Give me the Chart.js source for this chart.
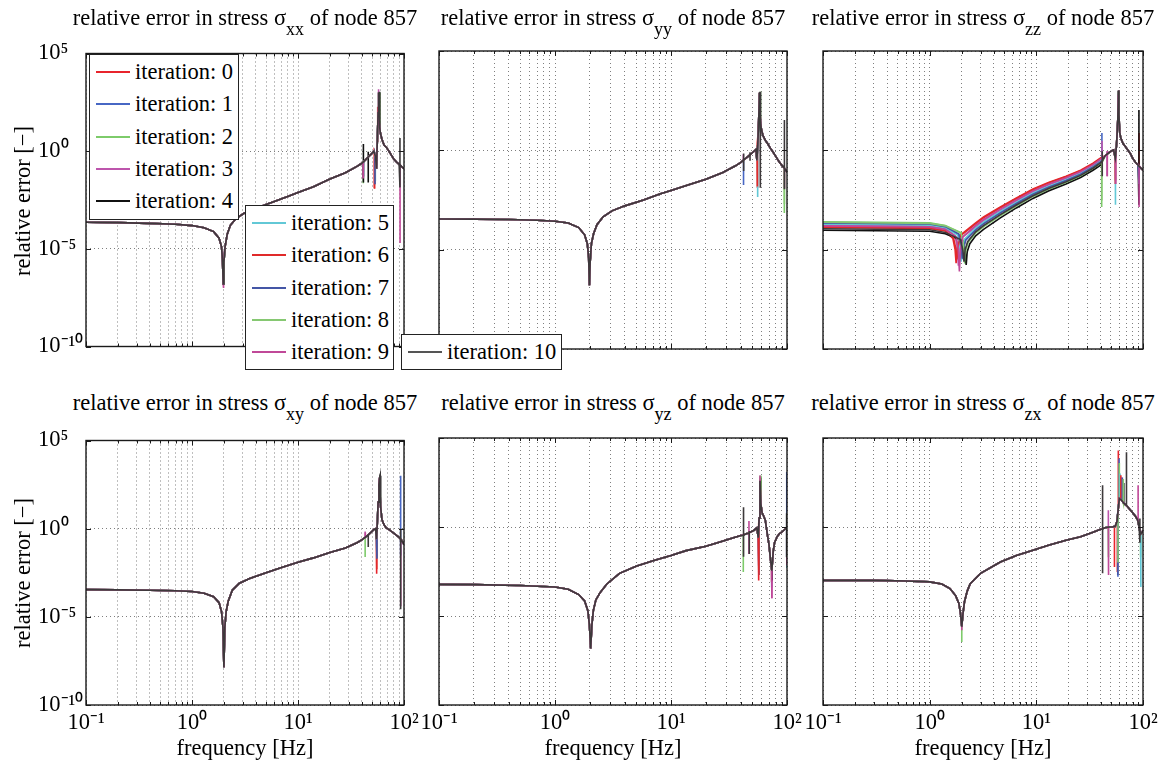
<!DOCTYPE html>
<html lang="en">
<head>
<meta charset="UTF-8">
<title>Relative error in stress of node 857</title>
<style>
    body { margin: 0; background: #fff; font-family: "Liberation Serif", "Times New Roman", serif; color: #000; }
    #fig { position: relative; width: 1165px; height: 763px; overflow: hidden; background: #fff; }
    canvas { position: absolute; }
    .ttl { position: absolute; width: 440px; text-align: center; font-size: 22.5px; line-height: 22px; white-space: nowrap; }
    .ttl sub { font-size: 18px; vertical-align: -10px; line-height: 0; }
    .ylab { position: absolute; width: 220px; height: 22px; line-height: 22px; font-size: 22.5px; text-align: center; white-space: nowrap; transform: rotate(-90deg); }
    .legend { position: absolute; background: #fff; border: 1px solid #222; box-sizing: border-box; z-index: 5; }
    .legend .row { position: absolute; left: 0; height: 32px; display: flex; align-items: center; }
    .legend .swatch { width: 34px; height: 2px; margin-left: 6px; }
    .legend .txt { margin-left: 5px; font-size: 22.5px; white-space: nowrap; }
</style>
<script src="https://cdn.jsdelivr.net/npm/chart.js"></script>
</head>
<body>
<div id="fig"></div>
<script>
// iterations
const iterLabels = ['iteration: 0', 'iteration: 1', 'iteration: 2', 'iteration: 3', 'iteration: 4',
    'iteration: 5', 'iteration: 6', 'iteration: 7', 'iteration: 8', 'iteration: 9', 'iteration: 10'];
const iterColors = ['#e8242c', '#4767c4', '#7dcb6a', '#bd55ac', '#111111',
    '#62c8d6', '#e02a2a', '#4456a6', '#86c872', '#c04898', '#3d393b'];
const legendColors = ['#e8242c', '#4767c4', '#7dcb6a', '#bd55ac', '#111111',
    '#62c8d6', '#e02a2a', '#4456a6', '#86c872', '#c04898', '#555555'];

// axis ticks
const xGridTicks = [0.1, 0.2, 0.3, 0.4, 0.5, 0.6, 0.7, 0.8, 0.9, 1, 2, 3, 4, 5, 6, 7, 8, 9,
    10, 20, 30, 40, 50, 60, 70, 80, 90, 100];
const xDecades = [0.1, 1, 10, 100];
const xTickLabels = ['10\u207B\u00B9', '10\u2070', '10\u00B9', '10\u00B2'];
const yDecades = [1e-10, 1e-5, 1, 1e5];
const yTickLabels = ['10\u207B\u00B9\u2070', '10\u207B\u2075', '10\u2070', '10\u2075'];

// spikes: [f, tip] is a single point, [f, level, tip, ...] is a vertical stroke from the curve level

// sigma_xx : curve shared by all iterations + spikes per iteration
const xxFreq = [0.1, 0.2, 0.4, 0.7, 1, 1.3, 1.6, 1.8, 1.9, 1.94, 1.97, 2.0, 2.05, 2.15, 2.3, 2.6, 3.1, 4, 5.8, 8,
    10, 14, 20, 28, 36, 40, 43, 46, 49, 52, 54, 55, 56, 57, 57.5, 58, 59, 60, 62, 65, 68, 72, 76, 80, 85, 90, 95, 100];
const xxBase = [2.3e-4, 2.2e-4, 2e-4, 1.8e-4, 1.55e-4, 1.2e-4, 7.6e-5, 3.5e-5, 1.26e-5, 2.5e-6, 1.6e-7, 2e-6, 1.26e-5, 5.6e-5, 1.6e-4,
    3.5e-4, 6.6e-4, 1.2e-3, 2.5e-3, 4.8e-3, 7.6e-3, 1.5e-2, 3.8e-2, 7.9e-2, 0.166, 0.24, 0.35, 0.5, 0.7, 1.0,
    0.5, 0.126, 3.2, 100, 1000, 63, 16, 8, 4, 2, 1.6, 1.0, 0.63, 0.4, 0.28, 0.21, 0.16, 0.126];
const xxSpikes = [
    [[52.5, 0.85, 0.0126], [56.5, 190]],
    [[41.5, 0.27, 0.05], [53, 0.75, 0.02]],
    [[41.3, 0.27, 0.023]],
    [[41.3, 0.27, 0.04], [57.2, 1500]],
    [[41.4, 0.27, 2.3, 0.025], [46, 0.5, 0.93, 0.025], [58.5, 1000]],
    [[53.5, 0.6, 0.03]],
    [[52.8, 0.8, 0.012]],
    [[53.2, 0.7, 0.02]],
    [[58.3, 1000]],
    [[1.97, 1e-7], [41.2, 0.27, 0.04], [91.8, 0.2, 2e-5]],
    [[58.6, 1100], [91.6, 0.21, 4.7, 0.014]]
];

// sigma_yy
const yyFreq = [0.1, 0.2, 0.4, 0.7, 1, 1.3, 1.6, 1.8, 1.9, 1.95, 1.98, 2.01, 2.06, 2.15, 2.3, 2.6, 3.1, 4, 5.8, 8,
    10, 14, 20, 28, 36, 40, 43, 46, 49, 52, 54, 55, 56, 57, 58, 58.5, 59, 60, 62, 65, 68, 72, 76, 80, 85, 90, 95, 100];
const yyBase = [3.5e-4, 3.45e-4, 3.3e-4, 3e-4, 2.7e-4, 2.2e-4, 1.3e-4, 5.6e-5, 2e-5, 4e-6, 1.6e-7, 2.5e-6, 2e-5, 6.3e-5, 1.8e-4,
    4.5e-4, 9e-4, 1.6e-3, 3.2e-3, 6.3e-3, 9.5e-3, 1.8e-2, 3.5e-2, 7.6e-2, 0.166, 0.25, 0.35, 0.48, 0.66, 0.9,
    1.1, 0.32, 2, 32, 800, 100, 32, 12.6, 5.6, 3.2, 2.2, 1.26, 0.8, 0.5, 0.28, 0.18, 0.126, 0.08];
const yySpikes = [
    [[55.5, 0.6, 0.0126]],
    [[42.2, 0.32, 0.018]],
    [[58.8, 900], [94.8, 0.13, 7e-4]],
    [[42, 0.32, 0.63], [58.3, 600]],
    [[58.7, 870]],
    [[55.8, 1.5, 4.5e-3]],
    [[55.3, 0.5, 0.015]],
    [[58.1, 500]],
    [[95, 0.126, 2e-3]],
    [[58.2, 620], [95.2, 0.125, 0.012]],
    [[42.3, 0.33, 0.7, 0.09], [48, 0.6, 0.8, 0.3], [58.6, 880], [58.8, 0.013], [95, 0.126, 34, 0.011]]
];

// sigma_zz : low-frequency part differs per iteration, resonance part shared
const zzFreq = [44, 47, 50, 53, 55, 56.5, 58, 59, 59.5, 60.5, 62, 65, 68, 72, 76, 80, 85, 90, 95, 100];
const zzBase = [0.52, 0.7, 0.9, 1.05, 0.4, 2, 32, 1000, 63, 8, 4, 2.2, 1.6, 1.05, 0.7, 0.4, 0.25, 0.18, 0.13, 0.1];
const zzLow = [
    [[0.1, 1.32e-4], [1, 1.17e-4], [1.4, 8.7e-5], [1.65, 3.7e-5], [1.73, 1.05e-5], [1.77, 2.1e-6], [1.81, 1.26e-5], [1.91, 5e-5],
        [2.7, 2.24e-4], [3.2, 4.5e-4], [4.6, 1.41e-3], [6.5, 3.98e-3], [9.3, 1.12e-2], [13, 2.4e-2], [19, 5e-2], [26, 0.1], [34, 0.224], [40, 0.417]],
    [[0.1, 2.1e-4], [1, 1.86e-4], [1.4, 1.38e-4], [1.86, 5.9e-5], [1.95, 1.66e-5], [2.0, 3.2e-6], [2.05, 1.12e-5], [2.16, 3.2e-5],
        [2.7, 1.05e-4], [3.2, 2.14e-4], [4.6, 7.4e-4], [6.5, 2.24e-3], [9.3, 6.5e-3], [13, 1.45e-2], [19, 3.16e-2], [26, 6.5e-2], [34, 0.148], [40, 0.275]],
    [[0.1, 2.5e-4], [1, 2.24e-4], [1.4, 1.66e-4], [1.98, 7.1e-5], [2.08, 2e-5], [2.13, 2e-6], [2.18, 1e-5], [2.3, 2.4e-5],
        [2.7, 6.9e-5], [3.2, 1.45e-4], [4.6, 5.2e-4], [6.5, 1.62e-3], [9.3, 4.8e-3], [13, 1.1e-2], [19, 2.45e-2], [26, 5.1e-2], [34, 0.12], [40, 0.22]],
    [[0.1, 1.78e-4], [1, 1.58e-4], [1.4, 1.17e-4], [1.73, 5e-5], [1.81, 1.41e-5], [1.86, 1.58e-6], [1.91, 1.12e-5], [2.01, 4e-5],
        [2.7, 1.41e-4], [3.2, 2.9e-4], [4.6, 9.5e-4], [6.5, 2.8e-3], [9.3, 8.1e-3], [13, 1.78e-2], [19, 3.8e-2], [26, 7.8e-2], [34, 0.174], [40, 0.324]],
    [[0.1, 9.5e-5], [1, 8.5e-5], [1.4, 6.3e-5], [2.05, 2.7e-5], [2.15, 7.9e-6], [2.2, 1.7e-6], [2.25, 7.9e-6], [2.38, 2e-5],
        [2.7, 5e-5], [3.2, 1.05e-4], [4.6, 4e-4], [6.5, 1.26e-3], [9.3, 3.8e-3], [13, 8.9e-3], [19, 2e-2], [26, 4.3e-2], [34, 0.1], [40, 0.18]],
    [[0.1, 1.9e-4], [1, 1.7e-4], [1.4, 1.26e-4], [1.83, 5.4e-5], [1.92, 1.5e-5], [1.97, 2.5e-6], [2.02, 1.12e-5], [2.13, 3.5e-5],
        [2.7, 1.2e-4], [3.2, 2.4e-4], [4.6, 8.3e-4], [6.5, 2.45e-3], [9.3, 7.1e-3], [13, 1.58e-2], [19, 3.4e-2], [26, 6.9e-2], [34, 0.158], [40, 0.295]],
    [[0.1, 1.41e-4], [1, 1.26e-4], [1.4, 9.3e-5], [1.67, 4e-5], [1.76, 1.12e-5], [1.8, 3.2e-6], [1.85, 1.41e-5], [1.94, 5e-5],
        [2.7, 2e-4], [3.2, 4e-4], [4.6, 1.29e-3], [6.5, 3.6e-3], [9.3, 1.02e-2], [13, 2.24e-2], [19, 4.7e-2], [26, 9.3e-2], [34, 0.209], [40, 0.39]],
    [[0.1, 2.2e-4], [1, 1.95e-4], [1.4, 1.45e-4], [1.88, 6.2e-5], [1.97, 1.74e-5], [2.02, 3.5e-6], [2.07, 1.12e-5], [2.18, 3e-5],
        [2.7, 9.8e-5], [3.2, 2e-4], [4.6, 7.1e-4], [6.5, 2.1e-3], [9.3, 6.2e-3], [13, 1.38e-2], [19, 3e-2], [26, 6.3e-2], [34, 0.145], [40, 0.263]],
    [[0.1, 2.4e-4], [1, 2.1e-4], [1.4, 1.58e-4], [1.97, 6.8e-5], [2.07, 1.9e-5], [2.12, 2.5e-6], [2.17, 1e-5], [2.29, 2.5e-5],
        [2.7, 7.2e-5], [3.2, 1.5e-4], [4.6, 5.5e-4], [6.5, 1.66e-3], [9.3, 5e-3], [13, 1.15e-2], [19, 2.5e-2], [26, 5.2e-2], [34, 0.123], [40, 0.224]],
    [[0.1, 1.58e-4], [1, 1.41e-4], [1.4, 1.05e-4], [1.77, 4.5e-5], [1.85, 1.26e-5], [1.9, 7.9e-7], [1.95, 1.12e-5], [2.05, 4.5e-5],
        [2.7, 1.66e-4], [3.2, 3.3e-4], [4.6, 1.1e-3], [6.5, 3.16e-3], [9.3, 9.1e-3], [13, 1.95e-2], [19, 4.2e-2], [26, 8.5e-2], [34, 0.19], [40, 0.355]],
    [[0.1, 1.12e-4], [1, 1e-4], [1.4, 7.4e-5], [1.95, 3.2e-5], [2.05, 8.9e-6], [2.1, 2.5e-6], [2.15, 1e-5], [2.27, 2.5e-5],
        [2.7, 7.9e-5], [3.2, 1.62e-4], [4.6, 5.8e-4], [6.5, 1.78e-3], [9.3, 5.2e-3], [13, 1.2e-2], [19, 2.6e-2], [26, 5.5e-2], [34, 0.126], [40, 0.234]]
];
const zzSpikes = [
    [[55.3, 0.5, 0.03], [91.8, 0.17, 7.4]],
    [[41.2, 0.3, 7.4, 0.1], [91.8, 0.17, 0.013]],
    [[41, 0.25, 1.4e-3]],
    [[41.3, 0.3, 3], [46, 0.65, 0.9, 0.05]],
    [[59.2, 1100], [91.6, 0.17, 107, 1.8e-3]],
    [[55.2, 0.45, 1.8e-3]],
    [[55, 0.4, 0.02]],
    [[91.7, 0.17, 0.02]],
    [[41.1, 0.25, 3e-3]],
    [[46.3, 0.66, 0.9, 0.05], [55.6, 0.7, 0.02], [58.6, 630], [91.9, 0.17, 1.4e-3]],
    [[41.5, 0.3, 0.9, 0.05]]
];

// sigma_xy
const xyFreq = [0.1, 0.2, 0.4, 0.7, 1, 1.3, 1.6, 1.8, 1.9, 1.96, 2.0, 2.04, 2.1, 2.2, 2.4, 2.8, 3.5, 5, 7, 10,
    14, 20, 28, 36, 40, 43, 46, 49, 52, 54, 55, 56, 57, 58, 59, 60, 62, 65, 68, 72, 76, 80, 85, 90, 95, 100];
const xyBase = [3.5e-4, 3.4e-4, 3.2e-4, 3e-4, 2.75e-4, 2.2e-4, 1.4e-4, 6.3e-5, 2e-5, 2.5e-6, 1.4e-8, 2.5e-6, 2e-5, 8e-5, 3.2e-4,
    8e-4, 1.5e-3, 3.2e-3, 6.3e-3, 1.26e-2, 2.2e-2, 4.5e-2, 8e-2, 0.16, 0.23, 0.32, 0.45, 0.63, 0.9, 1.0,
    0.25, 2, 32, 320, 800, 20, 3.2, 1.6, 1.1, 0.9, 0.7, 0.56, 0.42, 0.32, 0.22, 0.126];
const xySpikes = [
    [[55.2, 0.5, 2.8e-3]],
    [[93, 0.25, 1000, 0.03]],
    [[43, 0.32, 0.025]],
    [[43, 0.32, 0.7], [58.5, 600]],
    [[59.5, 1000]],
    [[55.5, 1, 0.02]],
    [[55.3, 0.6, 5e-3]],
    [[55.6, 1.2, 0.02]],
    [[59.3, 900]],
    [[43.2, 0.33, 0.6], [58.8, 800], [93.2, 0.25, 4e-5]],
    [[46, 0.45, 0.09], [59.6, 1000], [93, 0.25, 1.0, 2.7e-5]]
];

// sigma_yz
const yzFreq = [0.1, 0.2, 0.5, 1, 1.3, 1.6, 1.8, 1.92, 1.98, 2.03, 2.08, 2.14, 2.25, 2.44, 2.8, 3.6, 5, 7, 10, 13.5,
    20, 26, 34, 40, 44, 48, 52, 55, 56.5, 57.5, 58.5, 59.5, 61, 63, 65, 68, 70, 72, 74, 76, 78, 82, 86, 90, 95, 100];
const yzBase = [6e-4, 5.8e-4, 5.2e-4, 4.3e-4, 3.2e-4, 1.6e-4, 7e-5, 2e-5, 3.2e-6, 1.5e-7, 3.2e-6, 2e-5, 8e-5, 2e-4, 6.3e-4,
    2.5e-3, 6.3e-3, 1.26e-2, 2.5e-2, 4.7e-2, 8.3e-2, 0.14, 0.24, 0.33, 0.4, 0.5, 0.66, 0.9, 0.25, 3.2,
    400, 20, 6.3, 4, 2.4, 0.32, 0.1, 0.016, 3.5e-3, 0.04, 0.126, 0.28, 0.42, 0.52, 0.7, 1.0];
const yzSpikes = [
    [[57, 1.5, 1e-3], [73.5, 5e-3, 8e-4]],
    [[57.2, 2, 2e-3], [58.2, 420], [73.7, 4e-3, 4e-4], [99.5, 0.95, 1250]],
    [[42, 0.34, 3e-3], [58.6, 780]],
    [[74, 3.5e-3, 1e-4]],
    [[58.8, 600], [74.3, 5e-3, 1e-3]],
    [[99.6, 0.97, 5e-3]],
    [[57.3, 2.5, 2e-3]],
    [[99.4, 0.94, 0.02]],
    [[58.7, 700]],
    [[47, 0.45, 2.2, 0.03], [58.5, 780], [74.1, 3.5e-3, 1e-4], [99.7, 0.98, 7e-3]],
    [[42.2, 0.34, 13, 0.021], [47.3, 0.46, 0.6, 0.03], [99.3, 0.93, 6, 0.02]]
];

// sigma_zx
const zxFreq = [0.1, 0.3, 0.6, 1, 1.3, 1.55, 1.75, 1.88, 1.95, 2.0, 2.05, 2.12, 2.25, 2.4, 3, 4.6, 6.5, 9.3, 13, 19,
    26, 34, 40, 44, 48, 52, 55, 57, 60, 63, 66, 70, 75, 80, 85, 89, 92, 95, 100];
const zxBase = [1e-3, 1e-3, 9.3e-4, 8.3e-4, 6.3e-4, 3.5e-4, 1.4e-4, 5e-5, 1.26e-5, 2.5e-6, 1.26e-5, 6.3e-5, 2.5e-4, 6.6e-4, 2.5e-3,
    1.07e-2, 2.5e-2, 4.9e-2, 9.5e-2, 0.178, 0.28, 0.5, 0.75, 0.9, 1.0, 1.0, 1.12, 2, 40, 32,
    22, 16, 10, 6.3, 4, 2.5, 1.0, 0.4, 0.63];
const zxSpikes = [
    [[54, 1.08, 5.6e-3], [58.7, 12, 2e4]],
    [[58.2, 8, 1.6e-3], [59.6, 30, 7e3]],
    [[2.0, 2.5e-6, 3.5e-7], [47.2, 0.96, 0.02], [60, 40, 4e3], [95, 0.4, 0.02]],
    [[47, 0.96, 8.7], [63, 32, 630]],
    [[66, 22, 300]],
    [[61, 38, 1000], [95.5, 0.42, 4.3e-4]],
    [[57.5, 3, 3e-3], [62, 35, 800]],
    [[58, 6, 2e-3], [64, 28, 600]],
    [[58.3, 8, 1e-2], [65, 25, 500]],
    [[2.0, 2.5e-6, 1.6e-6], [47.3, 0.96, 2e-3], [90, 2.0, 220]],
    [[41.8, 0.78, 220, 2.5e-3], [70, 16, 1.6e4], [93.5, 0.7, 3, 0.13]]
];

const panels = [
    { sub: 'xx', freq: xxFreq, base: xxBase, spikes: xxSpikes, row: 0, col: 0 },
    { sub: 'yy', freq: yyFreq, base: yyBase, spikes: yySpikes, row: 0, col: 1 },
    { sub: 'zz', freq: zzFreq, base: zzBase, low: zzLow, spikes: zzSpikes, row: 0, col: 2 },
    { sub: 'xy', freq: xyFreq, base: xyBase, spikes: xySpikes, row: 1, col: 0 },
    { sub: 'yz', freq: yzFreq, base: yzBase, spikes: yzSpikes, row: 1, col: 1 },
    { sub: 'zx', freq: zxFreq, base: zxBase, spikes: zxSpikes, row: 1, col: 2 }
];

// plot area corners in page pixels
const colL = [86, 439, 823], colR = [404, 787, 1143];
const rowT = [51, 438], rowB = [349, 705];

const fig = document.getElementById('fig');
const FONT = { family: 'Liberation Serif', size: 22.5 };

function seriesFor(p, k) {
    const pts = p.freq.map((f, i) => ({ x: f, y: p.base[i] }));
    (p.low ? p.low[k] : []).forEach(([f, v]) => pts.push({ x: f, y: v }));
    pts.sort((a, b) => a.x - b.x);
    // strokes go in after sorting so their points stay together
    p.spikes[k].forEach(s => {
        const f = s[0];
        let i = pts.findIndex(q => q.x > f);
        if (i < 0) i = pts.length;
        const add = s.length === 2 ? [s[1]] : s.slice(1).concat([s[1]]);
        pts.splice(i, 0, ...add.map(v => ({ x: f, y: v })));
    });
    return pts;
}

// box round the axes plus small inward tick marks
const framePlugin = {
    id: 'frame',
    afterDatasetsDraw(chart) {
        const { ctx, chartArea: a, scales } = chart;
        ctx.save();
        ctx.strokeStyle = '#1a1a1a';
        ctx.lineWidth = 1;
        ctx.beginPath();
        scales.x.ticks.forEach(t => {
            const x = Math.round(scales.x.getPixelForValue(t.value)) + 0.5;
            const len = xDecades.includes(t.value) ? 5 : 3;
            ctx.moveTo(x, a.bottom); ctx.lineTo(x, a.bottom - len);
            ctx.moveTo(x, a.top); ctx.lineTo(x, a.top + len);
        });
        scales.y.ticks.forEach(t => {
            const y = Math.round(scales.y.getPixelForValue(t.value)) + 0.5;
            ctx.moveTo(a.left, y); ctx.lineTo(a.left + 5, y);
            ctx.moveTo(a.right, y); ctx.lineTo(a.right - 5, y);
        });
        ctx.stroke();
        ctx.lineWidth = 1.4;
        ctx.strokeRect(a.left, a.top, a.right - a.left, a.bottom - a.top);
        ctx.restore();
    }
};

panels.forEach(p => {
    const first = p.col === 0, bottom = p.row === 1;
    const padL = first ? 38 : 0, yW = first ? 48 : 30, padT = 14, padR = 20;
    const xH = bottom ? 58 : 14;
    const left = colL[p.col] - padL - yW, top = rowT[p.row] - padT;
    const w = colR[p.col] - colL[p.col] + padL + yW + padR;
    const h = rowB[p.row] - rowT[p.row] + padT + xH;

    const cv = document.createElement('canvas');
    cv.width = w; cv.height = h;
    cv.style.left = left + 'px'; cv.style.top = top + 'px';
    fig.appendChild(cv);

    new Chart(cv.getContext('2d'), {
        type: 'line',
        data: {
            datasets: iterLabels.map((lab, k) => ({
                label: lab,
                data: seriesFor(p, k),
                borderColor: iterColors[k],
                borderWidth: 1.6,
                pointRadius: 0,
                fill: false,
                tension: 0,
                order: 10 - k
            }))
        },
        options: {
            responsive: false,
            animation: false,
            events: [],
            layout: { padding: { left: padL, top: padT, right: padR, bottom: 0 } },
            plugins: { legend: { display: false }, tooltip: { enabled: false } },
            scales: {
                x: {
                    type: 'logarithmic', min: 0.1, max: 100,
                    afterBuildTicks: s => { s.ticks = xGridTicks.map(v => ({ value: v })); },
                    afterFit: s => { s.height = xH; },
                    grid: { color: 'rgba(0,0,0,0.5)', lineWidth: 1, drawTicks: false },
                    border: { display: false, dash: [1, 3] },
                    ticks: {
                        display: bottom, autoSkip: false, maxRotation: 0, minRotation: 0,
                        padding: 5, color: '#000', font: FONT,
                        callback: v => { const i = xDecades.indexOf(v); return i < 0 ? '' : xTickLabels[i]; }
                    },
                    title: { display: bottom, text: 'frequency [Hz]', color: '#000', font: FONT, padding: { top: 0, bottom: 0 } }
                },
                y: {
                    type: 'logarithmic', min: 1e-10, max: 1e5,
                    afterBuildTicks: s => { s.ticks = yDecades.map(v => ({ value: v })); },
                    afterFit: s => { s.width = yW; },
                    grid: { color: 'rgba(0,0,0,0.5)', lineWidth: 1, drawTicks: false },
                    border: { display: false, dash: [1, 3] },
                    ticks: {
                        display: first, crossAlign: 'far', color: '#000', font: FONT,
                        callback: v => { const i = yDecades.indexOf(v); return i < 0 ? '' : yTickLabels[i]; }
                    }
                }
            }
        },
        plugins: [framePlugin]
    });

    // panel title with subscript
    const t = document.createElement('div');
    t.className = 'ttl';
    t.style.left = ((colL[p.col] + colR[p.col]) / 2 - 220) + 'px';
    t.style.top = (p.row === 0 ? 7 : 392) + 'px';
    t.innerHTML = 'relative error in stress \u03C3<sub>' + p.sub + '</sub> of node 857';
    fig.appendChild(t);

    if (first) {
        const yl = document.createElement('div');
        yl.className = 'ylab';
        yl.textContent = 'relative error [\u2212]';
        const cy = (rowT[p.row] + rowB[p.row]) / 2 + 1;
        yl.style.left = (23 - 110) + 'px';
        yl.style.top = (cy - 11) + 'px';
        fig.appendChild(yl);
    }
});

// the three legend boxes sitting over the first panel
const legendBoxes = [
    { left: 89, top: 54, width: 150, height: 166, items: [0, 1, 2, 3, 4] },
    { left: 245, top: 205, width: 149, height: 165, items: [5, 6, 7, 8, 9] },
    { left: 401, top: 334, width: 161, height: 36, items: [10] }
];
legendBoxes.forEach(b => {
    const box = document.createElement('div');
    box.className = 'legend';
    Object.assign(box.style, { left: b.left + 'px', top: b.top + 'px', width: b.width + 'px', height: b.height + 'px' });
    b.items.forEach((k, j) => {
        const row = document.createElement('div');
        row.className = 'row';
        row.style.top = (1 + j * 32.3) + 'px';
        row.innerHTML = '<span class="swatch" style="background:' + legendColors[k] + '"></span><span class="txt">' + iterLabels[k] + '</span>';
        box.appendChild(row);
    });
    fig.appendChild(box);
});
</script>
</body>
</html>
